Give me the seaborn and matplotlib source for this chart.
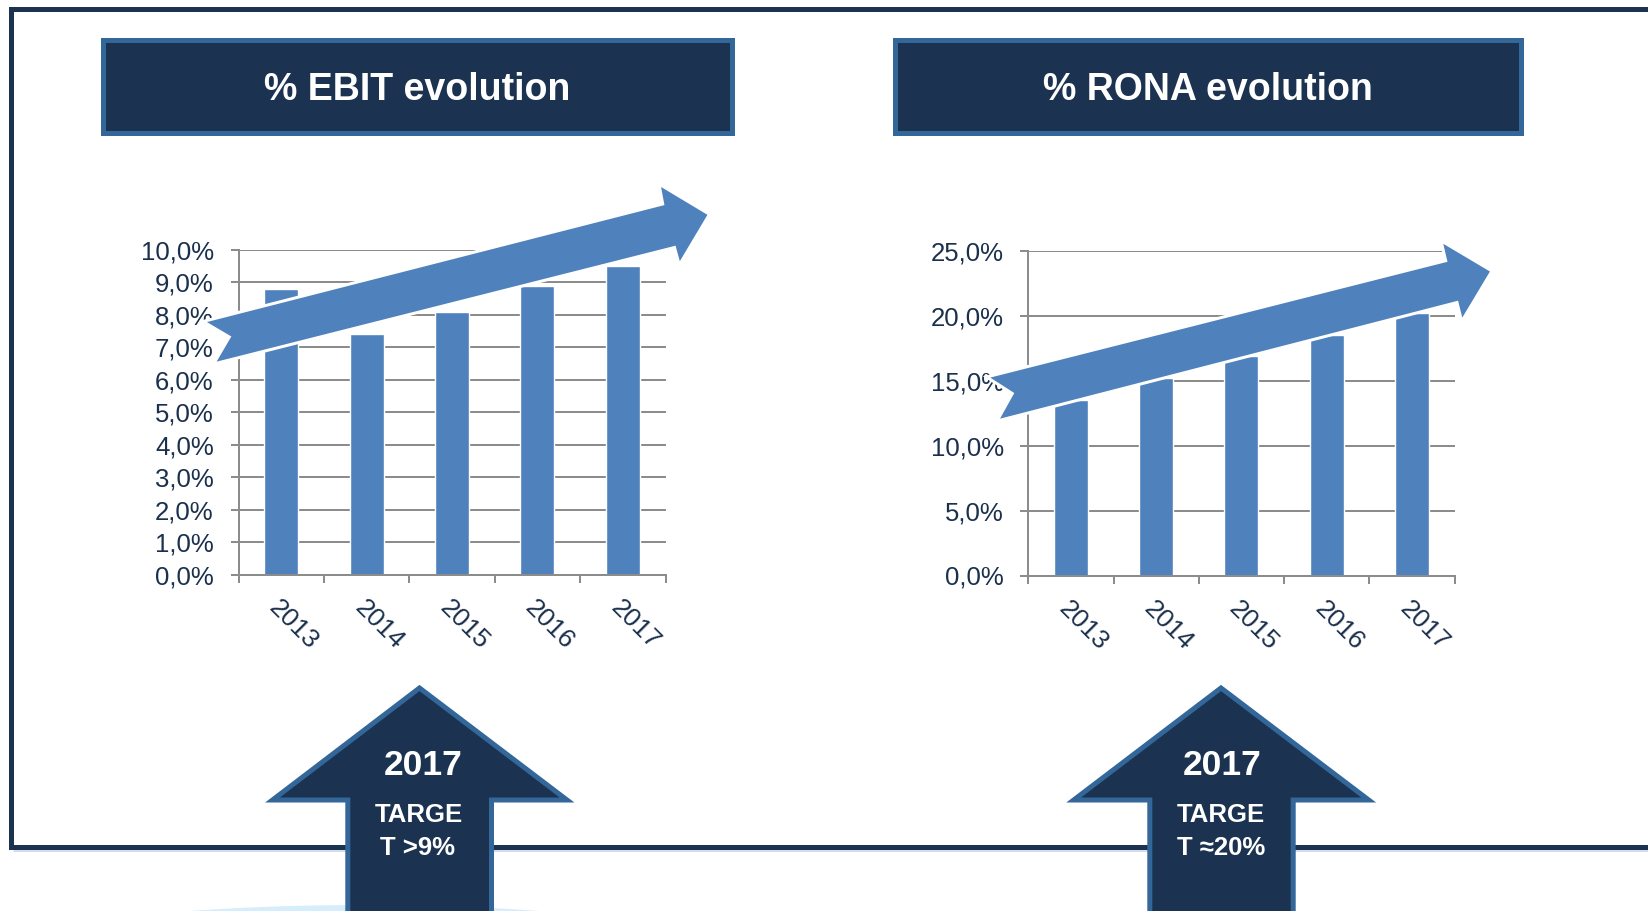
import numpy as np
import pandas as pd
import seaborn as sns
import matplotlib.pyplot as plt
from matplotlib.patches import Polygon, Rectangle, Ellipse
from matplotlib.ticker import FuncFormatter

# -----------------------------
# data
# -----------------------------
years = ["2013", "2014", "2015", "2016", "2017"]
ebit_pct = [8.8, 7.4, 8.1, 8.9, 9.5]
rona_pct = [13.5, 15.2, 16.9, 18.5, 20.2]
ebit_ticks = [0, 1, 2, 3, 4, 5, 6, 7, 8, 9, 10]
rona_ticks = [0, 5, 10, 15, 20, 25]
titles = ["% EBIT evolution", "% RONA evolution"]
target_year = "2017"
target_text = [["TARGE", "T >9%"], ["TARGE", "T \u224820%"]]

# -----------------------------
# style
# -----------------------------
NAVY = "#1b3350"
BORDER = "#336699"
BAR = "#4f81bd"
GRID = "#8c8c8c"
TXT = "#1a304c"
W, H = 1648, 911
PT = 0.72  # px -> pt at dpi 100

sns.set_theme(style="white")
plt.rcParams["font.family"] = ["Liberation Sans", "DejaVu Sans"]

fig = plt.figure(figsize=(W / 100, H / 100), dpi=100)


def frac(l, t, r, b):
    return [l / W, 1 - b / H, (r - l) / W, (b - t) / H]


def pixel_axes(z):
    a = fig.add_axes([0, 0, 1, 1], zorder=z)
    a.set_xlim(0, W)
    a.set_ylim(H, 0)
    a.axis("off")
    a.patch.set_visible(False)
    return a


# -----------------------------
# background: frame + title boxes
# -----------------------------
bg = pixel_axes(0)
bg.plot([W + 20, 11.5, 11.5, W + 20], [9, 9, 846.5, 846.5], color=NAVY,
        lw=5 * PT, solid_joinstyle="miter")
bg.plot([14, W + 20], [850.5, 850.5], color="#c5d3e2", lw=1.5 * PT)
bg.add_patch(Ellipse((365, 950), 700, 90, fc="#d6edfb", ec="none"))

boxes = [(103.3, 40.2, 731.9, 132.5), (894.8, 40.2, 1521.5, 132.5)]
for (l, t, r, b), title in zip(boxes, titles):
    bg.add_patch(Rectangle((l, t), r - l, b - t, fc=NAVY, ec=BORDER,
                           lw=5 * PT, joinstyle="miter"))
    bg.text((l + r) / 2, 100, title, color="white", fontsize=27,
            fontweight="bold", ha="center", va="baseline")


# -----------------------------
# bar charts
# -----------------------------
def pct_fmt(v, pos):
    return f"{v:.1f}%".replace(".", ",")


def draw_chart(rect, values, ticks):
    ax = fig.add_axes(frac(*rect), zorder=1)
    ax.patch.set_visible(False)
    df = pd.DataFrame({"year": years, "value": values})
    sns.barplot(data=df, x="year", y="value", ax=ax, color=BAR,
                saturation=1, width=0.4)
    ax.set_xlim(-0.5, len(years) - 0.5)
    ax.set_ylim(0, ticks[-1])
    ax.set_yticks(ticks)
    ax.yaxis.set_major_formatter(FuncFormatter(pct_fmt))
    ax.set_xlabel("")
    ax.set_ylabel("")
    ax.grid(axis="y", color=GRID, lw=2 * PT)
    ax.set_axisbelow(True)
    for s in ["top", "right"]:
        ax.spines[s].set_visible(False)
    for s in ["left", "bottom"]:
        ax.spines[s].set_color(GRID)
        ax.spines[s].set_linewidth(2 * PT)

    ax.set_xticks(range(len(years)))
    ax.set_xticklabels(years, rotation=-45, ha="left", va="top",
                       rotation_mode="anchor")
    ax.set_xticks(np.arange(-0.5, len(years), 1), minor=True)
    ax.tick_params(axis="x", which="major", length=0, pad=15,
                   labelsize=19, labelcolor=TXT)
    ax.tick_params(axis="x", which="minor", length=8 * PT, width=2 * PT,
                   color=GRID, direction="out", bottom=True)
    ax.tick_params(axis="y", length=8 * PT, width=2 * PT, color=GRID,
                   direction="out", left=True, pad=12, labelsize=18.5,
                   labelcolor=TXT)
    return ax


draw_chart((238.5, 250, 665.5, 574.5), ebit_pct, ebit_ticks)
draw_chart((1028.3, 250.5, 1454.5, 575.5), rona_pct, rona_ticks)

# -----------------------------
# overlay: trend arrows and target arrows
# -----------------------------
ov = pixel_axes(3)

trend_arrows = [
    [(203, 321.5), (662.7, 204), (659, 184), (709.5, 214.3), (679.3, 265),
     (674.5, 247.5), (213.5, 364), (229.3, 337)],
    [(986.5, 377), (1445.7, 260.7), (1441, 240.7), (1492, 271),
     (1461.7, 321.5), (1457, 302.5), (997, 421), (1012.3, 393.5)],
]
for pts in trend_arrows:
    ov.add_patch(Polygon(pts, closed=True, fc=BAR, ec="white", lw=3 * PT,
                         joinstyle="miter"))

target_arrows = [
    (419.5, 272.5, 567, 347.8, 491.5),
    (1221, 1073.7, 1368.7, 1149.8, 1293.2),
]
text_x = [(423, 419, 418), (1222, 1221, 1221)]
for (cx, hl, hr, sl, sr), tx, lines in zip(target_arrows, text_x, target_text):
    pts = [(cx, 688), (hr, 800), (sr, 800), (sr, 940), (sl, 940),
           (sl, 800), (hl, 800)]
    ov.add_patch(Polygon(pts, closed=True, fc=NAVY, ec=BORDER, lw=5 * PT,
                         joinstyle="miter"))
    ov.text(tx[0], 775, target_year, color="white", fontsize=25.5,
            fontweight="bold", ha="center", va="baseline")
    ov.text(tx[1], 822.5, lines[0], color="white", fontsize=18.5,
            fontweight="bold", ha="center", va="baseline")
    ov.text(tx[2], 855, lines[1], color="white", fontsize=18.5,
            fontweight="bold", ha="center", va="baseline")

fig.savefig("out.png", dpi=100)
